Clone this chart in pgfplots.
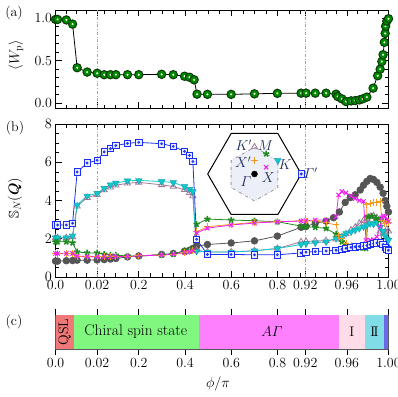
\documentclass[border=0pt]{standalone}
\usepackage{amsmath,amssymb,bm}
\usepackage{pgfplots}
\pgfplotsset{compat=1.18}

\definecolor{wgreen}{HTML}{008A00}
\definecolor{wedge}{HTML}{0A3A0A}
\definecolor{cblue}{HTML}{1A2FF0}
\definecolor{ccyan}{HTML}{10C8D0}
\definecolor{cmauve}{HTML}{A27A98}
\definecolor{cgreen}{HTML}{208A20}
\definecolor{corange}{HTML}{F29A20}
\definecolor{cmag}{HTML}{F020F0}
\definecolor{cgray}{HTML}{555555}
\definecolor{pqsl}{HTML}{F07878}
\definecolor{pchi}{HTML}{80F880}
\definecolor{pag}{HTML}{FF80FF}
\definecolor{pI}{HTML}{FFDCE8}
\definecolor{pII}{HTML}{80DCE6}
\definecolor{pfm}{HTML}{6A6AE8}
\definecolor{bzfill}{HTML}{ECEFF7}
\definecolor{lblue}{HTML}{1C2A5C}

\pgfdeclareplotmark{circdot}{%
  \pgfpathcircle{\pgfpointorigin}{\pgfplotmarksize}\pgfusepathqfillstroke
  \begin{pgfscope}\pgfsetfillcolor{white}%
  \pgfpathcircle{\pgfpointorigin}{0.27\pgfplotmarksize}\pgfusepathqfill\end{pgfscope}}
\pgfdeclareplotmark{sqdot}{%
  \pgfpathrectangle{\pgfpoint{-\pgfplotmarksize}{-\pgfplotmarksize}}{\pgfpoint{2\pgfplotmarksize}{2\pgfplotmarksize}}\pgfusepathqfillstroke
  \pgfpathcircle{\pgfpointorigin}{0.3\pgfplotmarksize}\pgfusepathqstroke}

\pgfplotsset{
  myaxis/.style={scale only axis, width=333bp, xmin=0, xmax=8, anchor=south west,
    xtick={0,1,2,3.1111,4.2222,5.3333,6,7,8},
    xticklabels={0.0,0.02,0.2,0.4,0.6,0.8,0.92,0.96,1.00},
    minor xtick={0.25,0.5,0.75,1.1667,1.4444,1.7222,2.2778,2.5556,2.8333,3.3889,3.6667,3.9444,4.5,4.7778,5.0556,5.6111,5.8889,6.25,6.5,6.75,7.25,7.5,7.75},
    major tick length=6bp, minor tick length=3.5bp,
    tick style={black, line width=0.6bp},
    axis line style={line width=0.8bp},
    font=\fontsize{14}{16}\selectfont,
    clip=false},
  dline/.style={gray!70, dash dot, line width=0.7bp},
  sblue/.style={cblue, line width=0.8bp, mark=sqdot, mark size=3.2bp, mark options={fill=blue!8, line width=0.8bp}},
  scyan/.style={ccyan, line width=0.8bp, mark=triangle*, mark size=3.8bp, mark options={rotate=180, fill=ccyan, draw=ccyan!80!black, line width=0.4bp}},
  smauve/.style={cmauve, line width=0.8bp, mark=triangle, mark size=3.6bp, mark options={line width=0.8bp}},
  sgreen/.style={cgreen, line width=0.8bp, mark=star, mark size=3.2bp, mark options={line width=1.6bp}},
  sorange/.style={corange, line width=0.8bp, mark=+, mark size=3.4bp, mark options={line width=1bp}},
  smag/.style={cmag, line width=0.8bp, mark=x, mark size=3bp, mark options={line width=1bp}},
  sgray/.style={cgray, line width=0.8bp, mark=*, mark size=3.3bp, mark options={fill=cgray}},
}

\begin{document}
\begin{tikzpicture}
\path[use as bounding box] (0,0) rectangle (398bp,397bp);

% ---------- panel (a)
\begin{axis}[myaxis, at={(55.5bp,288.7bp)}, height=97.8bp,
  ymin=-0.06, ymax=1.09, ytick={0,0.5,1}, yticklabels={0.0,0.5,1.0},
  minor ytick={0.1,0.2,0.3,0.4,0.6,0.7,0.8,0.9}, xticklabels={}]
\addplot[dline] coordinates {(1,-0.06)(1,1.09)};
\addplot[dline] coordinates {(6,-0.06)(6,1.09)};
\addplot[black, line width=0.8bp, mark=circdot, mark size=4.2bp,
  mark options={fill=wgreen, draw=wedge, line width=1bp}] coordinates {
(0.00,0.985)(0.05,0.985)(0.26,0.979)(0.41,0.93)(0.52,0.417)(0.76,0.366)(1.00,0.352)(1.17,0.335)(1.32,0.335)(1.45,0.335)(1.73,0.335)(2.00,0.335)(2.55,0.34)(2.83,0.335)(3.10,0.317)(3.22,0.305)(3.33,0.275)(3.40,0.106)(3.65,0.104)(4.22,0.104)(4.78,0.11)(5.33,0.116)(5.90,0.118)(6.02,0.118)(6.24,0.118)(6.50,0.118)(6.74,0.106)(6.78,0.078)(6.88,0.051)(6.98,0.019)(7.10,0.027)(7.20,0.031)(7.30,0.039)(7.38,0.051)(7.48,0.071)(7.63,0.177)(7.74,0.323)(7.80,0.40)(7.84,0.49)(7.87,0.57)(7.90,0.716)(7.92,0.82)(7.93,0.905)(7.96,0.965)(8.00,0.993)};
\end{axis}

% ---------- panel (b)
\begin{axis}[myaxis, at={(55.5bp,120bp)}, height=153bp,
  ymin=0, ymax=8, ytick={0,2,4,6,8}, minor y tick num=3]
\addplot[dline] coordinates {(1,0)(1,8)};
\addplot[dline] coordinates {(6,0)(6,8)};
\addplot[sgray] coordinates {
(0.00,0.83)(0.05,0.83)(0.26,0.85)(0.41,0.86)(0.52,0.88)(0.76,0.88)(1.00,0.89)(1.17,0.91)(1.32,0.94)(1.45,0.97)(1.73,1.05)(2.00,1.10)(2.55,1.18)(2.83,1.23)(3.10,1.35)(3.22,1.40)(3.30,1.49)(3.39,1.61)(3.65,1.70)(4.22,1.78)(4.78,1.89)(5.33,2.14)(5.90,2.60)(6.02,2.65)(6.24,2.80)(6.50,2.92)(6.68,3.10)(6.82,3.40)(6.96,3.90)(7.08,4.15)(7.20,4.30)(7.32,4.55)(7.40,4.80)(7.48,5.00)(7.56,5.15)(7.64,5.10)(7.72,4.95)(7.80,4.70)(7.87,4.38)(7.92,4.00)(7.96,3.70)(8.00,3.40)};
\addplot[smauve] coordinates {
(0.00,2.05)(0.05,2.05)(0.26,2.05)(0.41,2.10)(0.52,3.70)(0.76,4.15)(1.00,4.30)(1.17,4.55)(1.32,4.70)(1.45,4.80)(1.73,4.90)(2.00,4.95)(2.55,4.82)(2.83,4.73)(3.10,4.56)(3.22,4.41)(3.30,4.24)(3.39,1.40)(3.65,1.31)(4.22,1.31)(4.78,1.37)(5.33,1.49)(5.90,1.84)(6.02,1.86)(6.24,1.88)(6.50,1.90)(6.74,1.98)(6.88,2.10)(6.98,2.25)(7.10,2.45)(7.20,2.60)(7.30,2.80)(7.40,2.95)(7.48,3.05)(7.56,3.15)(7.64,3.20)(7.72,3.10)(7.80,2.40)(7.87,2.25)(7.92,2.35)(7.96,2.50)(8.00,2.40)};
\addplot[scyan] coordinates {
(0.00,2.05)(0.05,2.05)(0.26,2.05)(0.41,2.15)(0.52,3.77)(0.76,4.24)(1.00,4.38)(1.17,4.64)(1.32,4.82)(1.45,4.91)(1.73,5.03)(2.00,5.05)(2.55,4.99)(2.83,4.94)(3.10,4.73)(3.22,4.59)(3.30,4.47)(3.39,1.35)(3.65,1.31)(4.22,1.31)(4.78,1.37)(5.33,1.49)(5.90,1.70)(6.02,1.75)(6.24,1.79)(6.50,1.84)(6.74,2.02)(6.88,2.14)(6.98,2.28)(7.10,2.36)(7.20,2.45)(7.30,2.54)(7.40,2.63)(7.48,2.70)(7.56,2.80)(7.64,2.77)(7.72,2.89)(7.80,2.60)(7.87,2.40)(7.92,2.15)(7.96,2.00)(8.00,1.93)};
\addplot[sgreen] coordinates {
(0.00,1.84)(0.05,1.84)(0.26,1.84)(0.41,1.79)(0.52,1.31)(0.76,1.26)(1.00,1.26)(1.17,1.19)(1.32,1.14)(1.45,1.14)(1.73,1.10)(2.00,1.10)(2.55,1.15)(2.83,1.20)(3.10,1.37)(3.22,1.40)(3.30,1.44)(3.39,2.76)(3.65,3.03)(4.22,2.98)(4.78,2.94)(5.33,2.89)(5.90,2.66)(6.02,2.63)(6.24,2.60)(6.50,2.54)(6.74,2.24)(6.88,1.84)(6.98,1.67)(7.10,1.58)(7.20,1.55)(7.30,1.53)(7.40,1.52)(7.46,1.50)(7.51,3.15)(7.60,3.19)(7.70,3.07)(7.80,3.00)(7.84,1.75)(7.90,1.67)(7.96,1.60)(8.00,1.55)};
\addplot[sorange] coordinates {
(0.00,1.23)(0.05,1.23)(0.26,1.23)(0.41,1.23)(0.52,1.09)(0.76,1.07)(1.00,1.06)(1.17,1.06)(1.32,1.06)(1.45,1.07)(1.73,1.08)(2.00,1.10)(2.55,1.15)(2.83,1.20)(3.10,1.28)(3.22,1.32)(3.30,1.38)(3.39,2.36)(3.65,2.63)(4.22,2.75)(4.78,2.86)(5.33,2.89)(5.90,2.93)(6.02,2.93)(6.24,2.93)(6.50,2.84)(6.74,2.72)(6.80,2.19)(6.88,2.02)(6.98,1.75)(7.10,1.65)(7.20,1.58)(7.30,1.58)(7.40,1.58)(7.46,1.58)(7.48,3.77)(7.56,3.85)(7.64,3.89)(7.72,3.90)(7.80,3.95)(7.84,2.98)(7.90,2.80)(7.96,2.90)(8.00,2.85)};
\addplot[smag] coordinates {
(0.00,1.23)(0.05,1.23)(0.26,1.23)(0.41,1.23)(0.52,1.09)(0.76,1.07)(1.00,1.06)(1.17,1.06)(1.32,1.06)(1.45,1.07)(1.73,1.08)(2.00,1.10)(2.55,1.15)(2.83,1.20)(3.10,1.28)(3.22,1.32)(3.30,1.38)(3.39,2.30)(3.65,2.55)(4.22,2.72)(4.78,2.82)(5.33,2.89)(5.90,2.93)(6.02,2.95)(6.24,2.98)(6.50,2.98)(6.74,3.15)(6.80,4.29)(6.88,4.47)(6.98,4.40)(7.10,4.24)(7.20,4.10)(7.30,4.00)(7.40,3.95)(7.46,1.93)(7.56,1.93)(7.64,1.95)(7.72,2.10)(7.80,2.63)(7.84,3.10)(7.88,3.20)(7.92,3.15)(7.96,3.00)(8.00,2.90)};
\addplot[sblue] coordinates {
(0.00,2.72)(0.05,2.72)(0.26,2.72)(0.41,2.81)(0.52,5.49)(0.76,5.96)(1.00,6.10)(1.17,6.54)(1.32,6.71)(1.45,6.87)(1.73,6.99)(2.00,7.04)(2.55,6.97)(2.83,6.83)(3.10,6.57)(3.22,6.36)(3.30,6.04)(3.39,1.97)(3.65,1.18)(4.22,1.18)(4.78,1.16)(5.33,1.16)(5.90,1.26)(6.02,1.30)(6.24,1.33)(6.50,1.36)(6.74,1.40)(6.88,1.45)(6.98,1.50)(7.10,1.55)(7.20,1.58)(7.30,1.60)(7.40,1.62)(7.48,1.65)(7.56,1.70)(7.64,1.75)(7.72,1.78)(7.80,1.80)(7.87,1.70)(7.92,1.55)(7.96,1.45)(8.00,1.40)};
\end{axis}

% ---------- inset (Brillouin zone)
\begin{axis}[scale only axis, width=108bp, height=108bp, anchor=center, at={(254.5bp,223bp)},
  xmin=-2, xmax=2, ymin=-2, ymax=2, hide axis, clip=false,
  font=\fontsize{14}{16}\selectfont]
\addplot[black, line width=1bp, fill=white] coordinates {(1.732,0)(0.866,1.5)(-0.866,1.5)(-1.732,0)(-0.866,-1.5)(0.866,-1.5)} -- cycle;
\addplot[gray!80, dash dot, line width=0.8bp, fill=bzfill] coordinates {(0,1)(0.866,0.5)(0.866,-0.5)(0,-1)(-0.866,-0.5)(-0.866,0.5)} -- cycle;
\addplot[black, only marks, mark=*, mark size=3bp] coordinates {(0,0)};
\addplot[sblue, only marks] coordinates {(1.732,0)};
\addplot[scyan, only marks] coordinates {(0.866,0.5)};
\addplot[smauve, only marks] coordinates {(0,1)};
\addplot[sgreen, only marks] coordinates {(0.433,0.75)};
\addplot[sorange, only marks] coordinates {(0,0.5)};
\addplot[smag, only marks] coordinates {(0.433,0.25)};
\node[lblue] at (axis cs:-0.40,1.07) {$K'$};
\node[lblue] at (axis cs:0.40,1.07) {$M$};
\node[lblue] at (axis cs:-0.42,0.45) {$X'$};
\node[lblue] at (axis cs:1.13,0.33) {$K$};
\node[lblue] at (axis cs:0.51,-0.12) {$X$};
\node[lblue] at (axis cs:-0.32,-0.30) {$\varGamma$};
\node[lblue] at (axis cs:2.08,0.03) {$\varGamma'$};
\end{axis}

% ---------- panel (c)
\begin{axis}[myaxis, at={(55.5bp,48bp)}, height=34bp,
  ymin=0, ymax=1, ytick=\empty, minor xtick={}, tick align=outside,
  axis line style={draw=black!65, line width=0.8bp}]
\addplot[fill=pqsl, draw=none] coordinates {(0,0)(0,1)(0.44,1)(0.44,0)} -- cycle;
\addplot[fill=pchi, draw=none] coordinates {(0.44,0)(0.44,1)(3.45,1)(3.45,0)} -- cycle;
\addplot[fill=pag, draw=none] coordinates {(3.45,0)(3.45,1)(6.80,1)(6.80,0)} -- cycle;
\addplot[fill=pI, draw=none] coordinates {(6.80,0)(6.80,1)(7.44,1)(7.44,0)} -- cycle;
\addplot[fill=pII, draw=none] coordinates {(7.44,0)(7.44,1)(7.90,1)(7.90,0)} -- cycle;
\addplot[fill=pfm, draw=none] coordinates {(7.90,0)(7.90,1)(8,1)(8,0)} -- cycle;
\node[rotate=90] at (axis cs:0.22,0.5) {QSL};
\node[font=\fontsize{15.5}{17}\selectfont] at (axis cs:1.93,0.5) {Chiral spin state};
\node at (axis cs:5.2,0.5) {$A\varGamma$};
\node at (axis cs:7.12,0.5) {I};
\node at (axis cs:7.66,0.5) {I\kern-0.12em I};
\end{axis}

% ---------- labels
\node[font=\fontsize{14}{16}\selectfont] at (14bp,384bp) {(a)};
\node[font=\fontsize{14}{16}\selectfont] at (15bp,269bp) {(b)};
\node[font=\fontsize{14}{16}\selectfont] at (14bp,75bp) {(c)};
\node[font=\fontsize{14}{16}\selectfont, rotate=90] at (16bp,342bp) {$\langle W_{\mathrm{p}}\rangle$};
\node[font=\fontsize{14}{16}\selectfont, rotate=90] at (15bp,199bp) {$\mathbb{S}_N(\bm{Q})$};
\node[font=\fontsize{14}{16}\selectfont] at (218bp,13bp) {$\phi/\pi$};
\end{tikzpicture}
\end{document}
